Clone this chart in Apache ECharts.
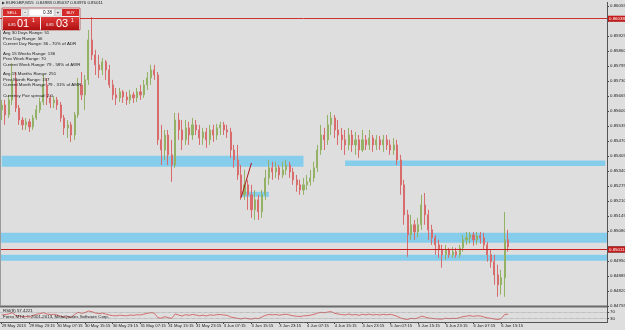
<!DOCTYPE html>
<html><head><meta charset="utf-8">
<script src="https://cdn.jsdelivr.net/npm/echarts@6/dist/echarts.min.js"></script>
<style>html,body{margin:0;padding:0;background:#dedede}#c{width:625px;height:330px}</style>
</head><body><div id="c"></div>
<script>
// Hourly candles: [open, close, low, high]
const ohlc = [
[0.85605,0.85626,0.85561,0.85648],[0.85626,0.85583,0.85540,0.85648],[0.85583,0.85648,0.85570,0.85670],[0.85648,0.85735,0.85626,0.85808],
[0.85735,0.85613,0.85596,0.85769],[0.85613,0.85561,0.85540,0.85626],[0.85561,0.85540,0.85518,0.85574],[0.85540,0.85553,0.85518,0.85570],
[0.85553,0.85531,0.85509,0.85566],[0.85531,0.85570,0.85518,0.85583],[0.85570,0.85605,0.85561,0.85626],[0.85605,0.85639,0.85592,0.85657],
[0.85639,0.85713,0.85626,0.85756],[0.85713,0.85657,0.85626,0.85743],[0.85657,0.85635,0.85613,0.85670],[0.85635,0.85648,0.85613,0.85665],
[0.85648,0.85626,0.85605,0.85661],[0.85626,0.85570,0.85553,0.85639],[0.85570,0.85527,0.85496,0.85583],[0.85527,0.85540,0.85483,0.85561],
[0.85540,0.85496,0.85466,0.85553],[0.85496,0.85583,0.85475,0.85596],[0.85583,0.85713,0.85570,0.85743],[0.85713,0.85670,0.85648,0.85769],
[0.85670,0.85735,0.85605,0.85756],[0.85735,0.85908,0.85713,0.85951],[0.85908,0.85843,0.85821,0.86007],[0.85843,0.85800,0.85756,0.85865],
[0.85800,0.85778,0.85743,0.85843],[0.85778,0.85813,0.85756,0.85830],[0.85813,0.85778,0.85735,0.85821],[0.85778,0.85713,0.85700,0.85800],
[0.85713,0.85670,0.85648,0.85735],[0.85670,0.85657,0.85626,0.85700],[0.85657,0.85683,0.85639,0.85700],[0.85683,0.85661,0.85635,0.85691],
[0.85661,0.85648,0.85626,0.85683],[0.85648,0.85670,0.85631,0.85691],[0.85670,0.85657,0.85635,0.85683],[0.85657,0.85683,0.85639,0.85700],
[0.85683,0.85670,0.85648,0.85713],[0.85670,0.85713,0.85657,0.85735],[0.85713,0.85743,0.85691,0.85769],[0.85743,0.85778,0.85713,0.85800],
[0.85778,0.85756,0.85735,0.85800],[0.85756,0.85475,0.85453,0.85769],[0.85475,0.85431,0.85366,0.85540],[0.85431,0.85496,0.85388,0.85518],
[0.85496,0.85410,0.85366,0.85518],[0.85410,0.85366,0.85293,0.85475],[0.85366,0.85561,0.85354,0.85592],[0.85561,0.85518,0.85475,0.85592],
[0.85518,0.85475,0.85431,0.85561],[0.85475,0.85527,0.85453,0.85561],[0.85527,0.85496,0.85453,0.85553],[0.85496,0.85540,0.85475,0.85570],
[0.85540,0.85518,0.85496,0.85561],[0.85518,0.85483,0.85453,0.85540],[0.85483,0.85509,0.85453,0.85527],[0.85509,0.85475,0.85440,0.85527],
[0.85475,0.85518,0.85453,0.85540],[0.85518,0.85496,0.85466,0.85540],[0.85496,0.85527,0.85475,0.85544],[0.85527,0.85540,0.85496,0.85553],
[0.85540,0.85518,0.85496,0.85553],[0.85518,0.85509,0.85483,0.85540],[0.85509,0.85431,0.85397,0.85527],[0.85431,0.85388,0.85354,0.85453],
[0.85388,0.85323,0.85302,0.85453],[0.85323,0.85237,0.85215,0.85366],[0.85237,0.85280,0.85215,0.85345],[0.85280,0.85237,0.85172,0.85302],
[0.85237,0.85172,0.85137,0.85280],[0.85172,0.85215,0.85128,0.85258],[0.85215,0.85163,0.85128,0.85237],[0.85163,0.85237,0.85137,0.85258],
[0.85237,0.85310,0.85215,0.85345],[0.85310,0.85354,0.85280,0.85388],[0.85354,0.85336,0.85302,0.85380],[0.85336,0.85354,0.85310,0.85380],
[0.85354,0.85323,0.85302,0.85366],[0.85323,0.85345,0.85310,0.85380],[0.85345,0.85366,0.85323,0.85388],[0.85366,0.85336,0.85310,0.85380],
[0.85336,0.85302,0.85280,0.85354],[0.85302,0.85280,0.85250,0.85323],[0.85280,0.85258,0.85237,0.85302],[0.85258,0.85280,0.85237,0.85310],
[0.85280,0.85293,0.85258,0.85323],[0.85293,0.85310,0.85276,0.85345],[0.85310,0.85354,0.85293,0.85380],[0.85354,0.85431,0.85336,0.85453],
[0.85431,0.85496,0.85410,0.85540],[0.85496,0.85475,0.85431,0.85527],[0.85475,0.85540,0.85453,0.85583],[0.85540,0.85570,0.85496,0.85596],
[0.85570,0.85518,0.85483,0.85583],[0.85518,0.85496,0.85453,0.85561],[0.85496,0.85475,0.85431,0.85527],[0.85475,0.85453,0.85410,0.85518],
[0.85453,0.85496,0.85431,0.85527],[0.85496,0.85453,0.85423,0.85518],[0.85453,0.85475,0.85410,0.85509],[0.85475,0.85431,0.85397,0.85496],
[0.85431,0.85475,0.85423,0.85518],[0.85475,0.85453,0.85431,0.85496],[0.85453,0.85483,0.85431,0.85518],[0.85483,0.85453,0.85423,0.85496],
[0.85453,0.85475,0.85431,0.85496],[0.85475,0.85453,0.85431,0.85492],[0.85453,0.85475,0.85423,0.85496],[0.85475,0.85453,0.85431,0.85496],
[0.85453,0.85431,0.85410,0.85475],[0.85431,0.85453,0.85410,0.85483],[0.85453,0.85388,0.85366,0.85475],[0.85388,0.85280,0.85237,0.85410],
[0.85280,0.85150,0.85107,0.85302],[0.85150,0.85063,0.84968,0.85172],[0.85063,0.85107,0.85042,0.85150],[0.85107,0.85076,0.85042,0.85128],
[0.85076,0.85107,0.85051,0.85137],[0.85107,0.85193,0.85085,0.85237],[0.85193,0.85150,0.85107,0.85245],[0.85150,0.85085,0.85042,0.85172],
[0.85085,0.85051,0.85020,0.85107],[0.85051,0.85020,0.84977,0.85063],[0.85020,0.84998,0.84964,0.85042],[0.84998,0.84977,0.84921,0.85020],
[0.84977,0.84998,0.84955,0.85020],[0.84998,0.84977,0.84964,0.85007],[0.84977,0.84990,0.84964,0.85011],[0.84990,0.84977,0.84964,0.85007],
[0.84977,0.85007,0.84964,0.85020],[0.85007,0.85042,0.84990,0.85063],[0.85042,0.85051,0.85020,0.85076],[0.85051,0.85063,0.85025,0.85076],
[0.85063,0.85042,0.85016,0.85076],[0.85042,0.85059,0.85020,0.85076],[0.85059,0.85051,0.85025,0.85076],[0.85051,0.85020,0.84998,0.85072],
[0.85020,0.84977,0.84947,0.85033],[0.84977,0.84947,0.84921,0.84998],[0.84947,0.84890,0.84847,0.84977],[0.84890,0.84847,0.84795,0.84934],
[0.84847,0.84877,0.84804,0.84912],[0.84877,0.85042,0.84795,0.85163],[0.85042,0.85011,0.84990,0.85085]
];
const rsi = [
52,55,58,66,50,45, 42,44,41,50,56,60, 66,58,55,56,52,45, 40,42,38,55,68,62,
66,76,72,64,60,63, 58,52,48,47,51,49, 47,52,50,54,52,58, 62,66,63,36,33,42,
36,32,58,52,46,54, 50,55,52,47,51,46, 53,50,54,55,52,50, 40,36,32,28,34,30,
27,33,30,40,50,55, 53,55,51,54,57,52, 47,45,43,47,48,51, 56,63,68,65,70,72,
62,58,55,52,58,52, 55,50,56,53,57,52, 55,52,56,53,56,51, 44,34,28,25,32,30,
34,45,40,34,32,29, 28,27,33,30,32,31, 36,42,45,48,44,47, 46,40,35,32,28,25,
30,55,57.42
];
const priceTicks = [0.86055,0.85990,0.85925,0.85860,0.85795,0.85730,0.85665,0.85600,0.85535,0.85470,0.85405,0.85340,0.85275,0.85210,0.85145,0.85080,0.84950,0.84885,0.84820,0.84755];
const rsiTicks = [70,30];
const timeTickIdx = [0,8,16,24,32,40,48,56,64,72,80,88,96,104,112,120,128,136,144];
const timeTickLabels = ['29 May 2013','29 May 23:15','30 May 07:15','30 May 15:15','30 May 23:15','31 May 07:15','31 May 15:15','31 May 23:15','3 Jun 07:15','3 Jun 15:15','3 Jun 23:15','4 Jun 07:15','4 Jun 15:15','4 Jun 23:15','5 Jun 07:15','5 Jun 15:15','5 Jun 23:15','6 Jun 07:15','6 Jun 15:15'];
const slotCount = 175;
const categories = Array.from({length: slotCount}, (_, i) => 'h' + i);
// zones & lines (prices)
const zoneA = [0, 87, 0.85406, 0.85358];
const zoneB = [99, 174, 0.85386, 0.85362];
const zoneC = [69, 77, 0.85250, 0.85228];
const bandFull1 = [0.85072, 0.85029];
const bandFull2 = [0.84977, 0.84951];
const askPrice = 0.85031, bidPrice = 0.85011, topLine = 0.86038;
const trend = [[69, 0.85224], [72, 0.85375]];
const infoLines = [
 ['Avg 30 Days Range: 51',33],['Prev Day Range: 56',38.5],['Current Day Range: 36 - 70% of ADR',44],
 ['Avg 15 Weeks Range: 136',53.5],['Prev Week Range: 70',59],['Current Week Range: 79 - 58% of AWR',64.5],
 ['Avg 15 Months Range: 251',74],['Prev Month Range: 157',79.5],['Current Month Range: 79 - 31% of AMR',85],
 ['Currency Pair spread: 2.0',96]
];

const FONT = 'Liberation Sans';
const chart = echarts.init(document.getElementById('c'), null, {renderer:'canvas'});
const blue = '#86cdec';
const tickSet = new Set(timeTickIdx);
function txt(x, y, s, o) {
  return Object.assign({type:'text', x, y, z:100, style:Object.assign({text:s, fill:'#1a1a1a', font:'4.4px ' + FONT, textVerticalAlign:'middle'}, o||{})});
}
const gfx = [];
gfx.push({type:'line', z:50, shape:{x1:0,y1:306.5,x2:607,y2:306.5}, style:{stroke:'#6a6a6a', lineWidth:2}});
gfx.push({type:'line', z:50, shape:{x1:0,y1:322.5,x2:607,y2:322.5}, style:{stroke:'#555', lineWidth:1}});
gfx.push({type:'line', z:50, shape:{x1:607.5,y1:2,x2:607.5,y2:323}, style:{stroke:'#555', lineWidth:1}});
gfx.push({type:'line', z:50, shape:{x1:0.5,y1:30,x2:0.5,y2:306}, style:{stroke:'#9a9a9a', lineWidth:1}});
gfx.push({type:'polygon', z:100, shape:{points:[[2,1.5],[5,3],[2,4.5]]}, style:{fill:'#333'}});
gfx.push(txt(6, 3, 'EURGBP,M15  0.84983 0.85037 0.84976 0.85011'));
gfx.push({type:'rect', z:90, shape:{x:2,y:8,width:78,height:22}, style:{fill:'#efefef', stroke:'#9a1a1a', lineWidth:0.6}});
gfx.push({type:'rect', z:95, shape:{x:3,y:9,width:18,height:7}, style:{fill:'#d42a2a'}});
gfx.push(txt(12, 12.5, 'SELL', {fill:'#fff', textAlign:'center', font:'4px ' + FONT}));
gfx.push({type:'rect', z:95, shape:{x:22,y:9,width:6,height:7}, style:{fill:'#e6e6e6', stroke:'#aaa', lineWidth:0.5}});
gfx.push(txt(25, 12.5, '-', {textAlign:'center', font:'5px ' + FONT}));
gfx.push({type:'rect', z:95, shape:{x:29,y:9,width:25,height:7}, style:{fill:'#ffffff', stroke:'#bbb', lineWidth:0.5}});
gfx.push(txt(52, 12.5, '0.38', {textAlign:'right', font:'4.6px ' + FONT}));
gfx.push({type:'rect', z:95, shape:{x:55,y:9,width:6,height:7}, style:{fill:'#e6e6e6', stroke:'#aaa', lineWidth:0.5}});
gfx.push(txt(58, 12.5, '+', {textAlign:'center', font:'5px ' + FONT}));
gfx.push({type:'rect', z:95, shape:{x:62,y:9,width:17,height:7}, style:{fill:'#d42a2a'}});
gfx.push(txt(70.5, 12.5, 'BUY', {fill:'#fff', textAlign:'center', font:'4px ' + FONT}));
const redGrad = new echarts.graphic.LinearGradient(0,0,0,1,[{offset:0,color:'#e03a3a'},{offset:1,color:'#b01010'}]);
gfx.push({type:'rect', z:95, shape:{x:3,y:17,width:37,height:13}, style:{fill:redGrad}});
gfx.push({type:'rect', z:95, shape:{x:41,y:17,width:38,height:13}, style:{fill:redGrad}});
gfx.push(txt(8, 25, '0.85', {fill:'#fff', font:'4px ' + FONT}));
gfx.push(txt(17, 23.5, '01', {fill:'#fff', font:'11px ' + FONT}));
gfx.push(txt(32, 20.5, '1', {fill:'#fff', font:'5px ' + FONT}));
gfx.push(txt(46, 25, '0.85', {fill:'#fff', font:'4px ' + FONT}));
gfx.push(txt(56, 23.5, '03', {fill:'#fff', font:'11px ' + FONT}));
gfx.push(txt(71, 20.5, '1', {fill:'#fff', font:'5px ' + FONT}));
infoLines.forEach(([s, y]) => gfx.push(txt(3, y, s)));
gfx.push(txt(3, 310.5, 'RSI(8) 57.4221'));
gfx.push(txt(3, 316.5, 'Forex MT4, \u00a9 2001-2013, MetaQuotes Software Corp.'));

const hLine = (y, color, lbl, bg) => ({
  yAxis: y, lineStyle:{color, width:1, type:'solid'},
  label:{show:true, position:'end', formatter:lbl, color:'#fff', backgroundColor:bg, fontSize:4.4, fontFamily:FONT, padding:[1,1,1,1], distance:1}
});

chart.setOption({
  animation:false,
  backgroundColor:'#dedede',
  textStyle:{fontFamily:FONT},
  grid:[
    {left:0, right:18, top:6, height:300, show:false, containLabel:false, outerBoundsMode:'none'},
    {left:0, right:18, top:307, height:15, show:false, containLabel:false, outerBoundsMode:'none'}
  ],
  xAxis:[
    {type:'category', gridIndex:0, data:categories, boundaryGap:true, show:false},
    {type:'category', gridIndex:1, data:categories, boundaryGap:true,
     axisLine:{show:false},
     axisTick:{show:true, length:2, interval:(i)=>tickSet.has(i), lineStyle:{color:'#444'}, alignWithLabel:true},
     axisLabel:{show:true, interval:(i)=>tickSet.has(i), formatter:(v,i)=>timeTickLabels[timeTickIdx.indexOf(i)] || '', fontSize:4.2, color:'#1a1a1a', align:'left', margin:2, fontFamily:FONT, hideOverlap:false}}
  ],
  yAxis:[
    {type:'value', gridIndex:0, position:'right', min:0.84755, max:0.86055,
     axisLine:{show:false}, splitLine:{show:false},
     axisTick:{show:true, length:2, customValues:priceTicks, lineStyle:{color:'#444'}},
     axisLabel:{show:true, customValues:priceTicks, formatter:(v)=>v.toFixed(5), fontSize:4.4, color:'#1a1a1a', margin:3, fontFamily:FONT}},
    {type:'value', gridIndex:1, position:'right', min:10, max:100,
     axisLine:{show:false}, splitLine:{show:false},
     axisTick:{show:true, length:2, customValues:rsiTicks, lineStyle:{color:'#444'}},
     axisLabel:{show:true, customValues:rsiTicks, fontSize:4.4, color:'#1a1a1a', margin:3, fontFamily:FONT}}
  ],
  series:[
    {type:'candlestick', xAxisIndex:0, yAxisIndex:0, data:ohlc, barWidth:1.6,
     itemStyle:{color:'#94b266', color0:'#d86c6c', borderColor:'#94b266', borderColor0:'#d86c6c', borderWidth:1},
     markArea:{silent:true, itemStyle:{color:blue, opacity:1},
       data:[
         [{coord:[categories[zoneA[0]], zoneA[2]]},{coord:[categories[zoneA[1]], zoneA[3]]}],
         [{coord:[categories[zoneB[0]], zoneB[2]]},{coord:[categories[zoneB[1]], zoneB[3]]}],
         [{coord:[categories[zoneC[0]], zoneC[2]]},{coord:[categories[zoneC[1]], zoneC[3]]}],
         [{yAxis:bandFull1[0]},{yAxis:bandFull1[1]}],
         [{yAxis:bandFull2[0]},{yAxis:bandFull2[1]}]
       ]},
     markLine:{silent:true, symbol:['none','none'], animation:false,
       data:[
         hLine(topLine, '#d03030', '0.86038', '#c41a1a'),
         hLine(askPrice, '#222', '0.85031', '#111'),
         hLine(bidPrice, '#c42020', '0.85011', '#c41a1a'),
         [{coord:[categories[trend[0][0]], trend[0][1]], lineStyle:{color:'#b01818', width:1, type:'solid'}, label:{show:false}},
          {coord:[categories[trend[1][0]], trend[1][1]]}]
       ]}
    },
    {type:'line', xAxisIndex:1, yAxisIndex:1, data:rsi, showSymbol:false, symbol:'none',
     lineStyle:{color:'#d05050', width:0.8},
     markLine:{silent:true, symbol:['none','none'], label:{show:false},
       lineStyle:{color:'#8a8a8a', type:'dotted', width:0.6},
       data:[{yAxis:70},{yAxis:30}]}}
  ],
  graphic:gfx
});
</script></body></html>
